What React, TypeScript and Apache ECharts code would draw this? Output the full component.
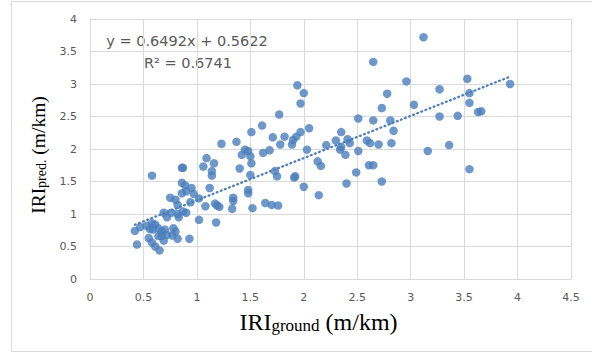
import React, { useEffect, useRef } from "react";
import * as echarts from "echarts";

// IRI_ground (x) and IRI_pred. (y)
const iriGround = [
  3.12, 2.65, 2.96, 1.94, 2.0, 1.97, 2.78, 3.27, 3.53, 3.55, 3.55, 3.93, 3.63, 3.66, 3.03, 2.73, 3.27, 3.44,
  2.51, 2.65, 2.81, 2.84, 2.35, 2.05, 1.97, 1.9, 1.93, 2.3, 2.41, 2.43, 2.21, 2.59, 2.62, 2.7, 2.82, 2.34,
  2.35, 2.39, 2.51, 2.03, 3.16, 3.36, 2.13, 2.16, 2.61, 2.65, 3.55, 2.49, 1.92, 2.73, 2.0, 2.14, 2.4,
  1.77, 1.61, 1.51, 1.23, 1.37, 1.71, 1.82, 1.78, 1.89, 1.45, 1.42, 1.5, 1.51, 1.48, 1.62, 1.68, 1.09,
  1.16, 1.06, 0.87, 1.14, 1.14, 1.4, 1.5, 1.73, 1.75, 1.91, 1.12, 1.48, 1.48, 1.34, 1.34, 1.64, 1.7, 1.76,
  1.17, 1.08, 1.52, 1.33, 1.19, 1.02, 1.18, 1.21, 0.58, 0.86,
  0.86, 0.89, 0.95, 0.9, 0.86, 0.97, 1.02, 0.94, 0.75, 0.8, 0.82, 0.69, 0.76, 0.72, 0.82, 0.83, 0.9, 0.87,
  0.42, 0.47, 0.53, 0.58, 0.61, 0.64, 0.59, 0.56, 0.67, 0.7, 0.72, 0.78, 0.8, 0.77, 0.82, 0.69, 0.64, 0.55,
  0.58, 0.61, 0.65, 0.44, 0.93, 0.67,
];
const iriPred = [
  3.72, 3.34, 3.04, 2.98, 2.86, 2.7, 2.85, 2.92, 3.08, 2.86, 2.71, 3.0, 2.57, 2.58, 2.68, 2.63, 2.5, 2.51,
  2.47, 2.44, 2.44, 2.28, 2.26, 2.32, 2.26, 2.14, 2.19, 2.13, 2.15, 2.09, 2.06, 2.13, 2.09, 2.07, 2.09, 1.99,
  2.03, 1.91, 1.97, 1.99, 1.97, 2.06, 1.81, 1.74, 1.75, 1.75, 1.69, 1.64, 1.58, 1.5, 1.42, 1.29, 1.47,
  2.53, 2.36, 2.26, 2.08, 2.11, 2.18, 2.19, 2.07, 2.07, 1.99, 1.91, 1.89, 1.78, 1.97, 1.94, 1.98, 1.86,
  1.78, 1.73, 1.71, 1.66, 1.59, 1.7, 1.6, 1.66, 1.58, 1.56, 1.4, 1.37, 1.32, 1.25, 1.2, 1.17, 1.14, 1.13,
  1.16, 1.12, 1.09, 1.08, 1.13, 0.91, 0.87, 1.11, 1.59, 1.71,
  1.48, 1.44, 1.4, 1.35, 1.32, 1.31, 1.24, 1.18, 1.25, 1.22, 1.14, 1.02, 1.02, 0.95, 1.0, 0.95, 1.02, 1.04,
  0.74, 0.8, 0.82, 0.86, 0.84, 0.78, 0.76, 0.77, 0.73, 0.76, 0.68, 0.78, 0.73, 0.67, 0.62, 0.59, 0.66, 0.63,
  0.56, 0.5, 0.44, 0.53, 0.62, 0.66,
];

// Linear trendline as printed on the chart
const trendSlope = 0.6492;
const trendIntercept = 0.5622;
const trendRange = [0.42, 3.93];
const equationText = "y = 0.6492x + 0.5622";
const r2Text = "R² = 0.6741";

const blue = "#4a7ebb";
const gridGray = "#d9d9d9";
const labelGray = "#595959";

export default function App() {
  const ref = useRef<HTMLDivElement>(null);

  useEffect(() => {
    if (!ref.current) return;
    const chart = echarts.init(ref.current, undefined, { renderer: "svg" });
    const points = iriGround.map((x, i) => [x, iriPred[i]]);
    const trend = trendRange.map((x) => [x, trendSlope * x + trendIntercept]);
    const serif = "'Liberation Serif', 'Times New Roman', serif";
    const richX = {
      a: { fontFamily: serif, fontSize: 24, color: "#000" },
      b: { fontFamily: serif, fontSize: 17, color: "#000", padding: [8, 0, 0, 0] },
    };
    const richY = {
      a: { fontFamily: serif, fontSize: 19.5, color: "#000" },
      b: { fontFamily: serif, fontSize: 14, color: "#000", padding: [7, 0, 0, 0] },
    };
    chart.setOption({
      animation: false,
      backgroundColor: "#fff",
      grid: { left: 90, right: 21, top: 19, bottom: 74, containLabel: false },
      xAxis: {
        type: "value",
        min: 0,
        max: 4.5,
        interval: 0.5,
        axisLine: { show: true, lineStyle: { color: gridGray } },
        axisTick: { show: false },
        splitLine: { show: true, lineStyle: { color: gridGray, width: 1 } },
        axisLabel: { color: labelGray, fontSize: 11, fontFamily: "DejaVu Sans", margin: 13 },
        name: "{a|IRI}{b|ground}{a| (m/km)}",
        nameLocation: "middle",
        nameGap: 30,
        nameTextStyle: { rich: richX, padding: [0, 24, 0, 0] },
      },
      yAxis: {
        type: "value",
        min: 0,
        max: 4,
        interval: 0.5,
        axisLine: { show: true, lineStyle: { color: gridGray } },
        axisTick: { show: false },
        splitLine: { show: true, lineStyle: { color: gridGray, width: 1 } },
        axisLabel: { color: labelGray, fontSize: 11, fontFamily: "DejaVu Sans", margin: 13 },
        name: "{a|IRI}{b|pred.}{a| (m/km)}",
        nameLocation: "middle",
        nameRotate: 90,
        nameGap: 34,
        nameTextStyle: { rich: richY, padding: [0, 12, 0, 0] },
      },
      graphic: [
        {
          type: "rect",
          silent: true,
          shape: { x: 11.5, y: 1.5, width: 600, height: 350 },
          style: { fill: "none", stroke: gridGray, lineWidth: 1 },
        },
        {
          type: "text",
          x: 187,
          y: 41,
          style: {
            text: equationText,
            fontFamily: "DejaVu Sans",
            fontSize: 14.5,
            fill: labelGray,
            align: "center",
            verticalAlign: "middle",
          },
        },
        {
          type: "text",
          x: 188,
          y: 63,
          style: {
            text: r2Text,
            fontFamily: "DejaVu Sans",
            fontSize: 14.5,
            fill: labelGray,
            align: "center",
            verticalAlign: "middle",
          },
        },
      ],
      series: [
        {
          type: "scatter",
          data: points,
          symbol: "circle",
          symbolSize: 8.5,
          itemStyle: { color: blue },
          z: 3,
        },
        {
          type: "line",
          data: trend,
          symbol: "none",
          lineStyle: { color: blue, width: 2.3, type: [0.8, 3.6], cap: "round" },
          z: 2,
        },
      ],
    });
    return () => chart.dispose();
  }, []);

  return (
    <div
      ref={ref}
      style={{ position: "fixed", left: 0, top: 0, width: 592, height: 353, background: "#fff" }}
    />
  );
}
